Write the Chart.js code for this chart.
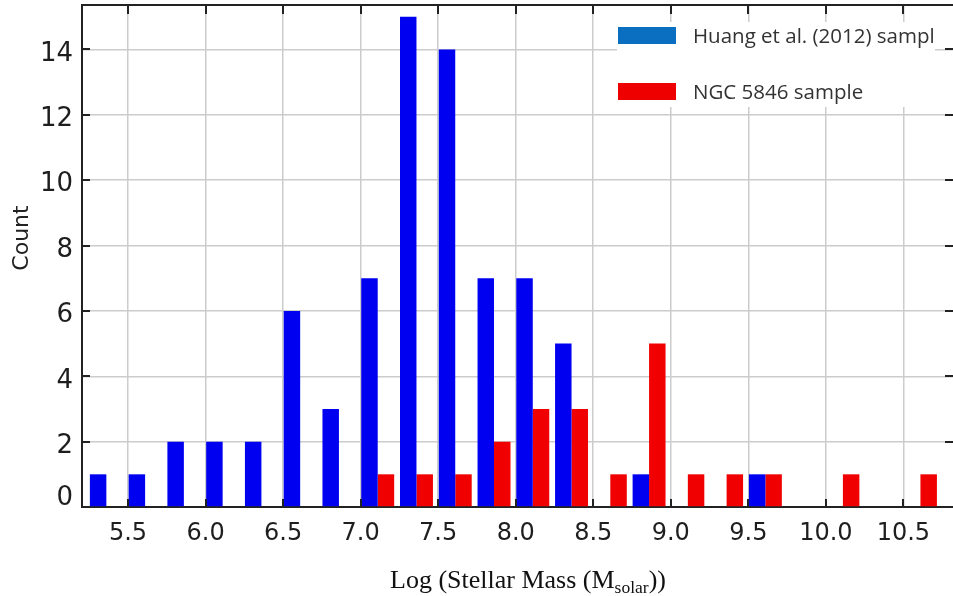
<!DOCTYPE html>
<html><head><meta charset="utf-8">
<script src="https://cdn.jsdelivr.net/npm/chart.js@4.4.1/dist/chart.umd.min.js"></script>
<style>html,body{margin:0;padding:0;background:#fff;overflow:hidden}</style>
</head><body>
<canvas id="c" width="953" height="596"></canvas>
<script>
// ---- data ----
const binCenters  = [5.36, 5.61, 5.86, 6.11, 6.36, 6.61, 6.86, 7.11, 7.36, 7.61, 7.86, 8.11, 8.36, 8.61, 8.86, 9.11, 9.36, 9.61, 9.86, 10.11, 10.36, 10.61];
const huangCounts = [1, 1, 2, 2, 2, 6, 3, 7, 15, 14, 7, 7, 5, 0, 1, 0, 0, 1, 0, 0, 0, 0];
const ngcCounts   = [0, 0, 0, 0, 0, 0, 0, 1, 1, 1, 2, 3, 3, 1, 5, 1, 1, 1, 0, 1, 0, 1];
const xTickValues = [5.5, 6.0, 6.5, 7.0, 7.5, 8.0, 8.5, 9.0, 9.5, 10.0, 10.5];
const yTickValues = [0, 2, 4, 6, 8, 10, 12, 14];
const seriesNames = ['Huang et al. (2012) sampl', 'NGC 5846 sample'];
const xTitleParts = ['Log (Stellar Mass (M', 'solar', '))'];
const yTitle = 'Count';
const xRange = [5.203, 10.82];
const yRange = [0, 15.36];

// ---- styles ----
const barColors = ['#0000f0', '#f00000'];
const legendColors = ['#0a6fc0', '#ee0000'];
const gridColor = '#cccccc';
const axisColor = '#222222';

const framePlugin = {
  id: 'frame',
  afterDatasetsDraw(chart) {
    const {ctx, chartArea: a, scales: {x, y}} = chart;
    ctx.save();
    ctx.strokeStyle = axisColor;
    ctx.lineWidth = 2;
    ctx.beginPath();
    ctx.moveTo(a.left - 1, a.top); ctx.lineTo(a.right, a.top);
    x.ticks.forEach(t => {
      const px = Math.round(x.getPixelForValue(t.value));
      ctx.moveTo(px, a.bottom); ctx.lineTo(px, a.bottom - 8);
      ctx.moveTo(px, a.top); ctx.lineTo(px, a.top + 9);
    });
    y.ticks.forEach(t => {
      const py = Math.round(y.getPixelForValue(t.value));
      ctx.moveTo(a.left, py); ctx.lineTo(a.left + 8, py);
      ctx.moveTo(a.right, py); ctx.lineTo(a.right - 8, py);
    });
    ctx.stroke();
    ctx.restore();
  }
};

const legendPlugin = {
  id: 'customLegend',
  afterDraw(chart) {
    const ctx = chart.ctx;
    ctx.save();
    ctx.fillStyle = '#ffffff';
    ctx.fillRect(617, 22, 318, 85);
    const rows = [36, 92];
    chart.data.datasets.forEach((ds, i) => {
      ctx.fillStyle = legendColors[i];
      ctx.fillRect(618, rows[i] - 9, 58, 17);
      ctx.fillStyle = '#333333';
      ctx.font = '20.5px "Open Sans"';
      ctx.textBaseline = 'middle';
      ctx.textAlign = 'left';
      ctx.fillText(ds.label, 693, rows[i] + 1);
    });
    ctx.restore();
  }
};

const titlePlugin = {
  id: 'axisTitles',
  afterDraw(chart) {
    const ctx = chart.ctx;
    ctx.save();
    ctx.fillStyle = '#111111';
    const mainFont = '26px "Liberation Serif"';
    const subFont = '17.5px "Liberation Serif"';
    ctx.font = mainFont; const w0 = ctx.measureText(xTitleParts[0]).width;
    const w2 = ctx.measureText(xTitleParts[2]).width;
    ctx.font = subFont; const w1 = ctx.measureText(xTitleParts[1]).width;
    const total = w0 + w1 + w2;
    let xs = 528 - total / 2;
    const base = 588;
    ctx.textBaseline = 'alphabetic'; ctx.textAlign = 'left';
    ctx.font = mainFont; ctx.fillText(xTitleParts[0], xs, base); xs += w0;
    ctx.font = subFont; ctx.fillText(xTitleParts[1], xs, base + 5); xs += w1;
    ctx.font = mainFont; ctx.fillText(xTitleParts[2], xs, base);
    ctx.translate(22, 238);
    ctx.rotate(-Math.PI / 2);
    ctx.font = '22px "DejaVu Sans"';
    ctx.fillStyle = '#222222';
    ctx.textAlign = 'center'; ctx.textBaseline = 'middle';
    ctx.fillText(yTitle, 0, 0);
    ctx.restore();
  }
};

new Chart(document.getElementById('c'), {
  type: 'bar',
  data: {
    datasets: [
      { label: seriesNames[0], data: binCenters.map((x, i) => ({x, y: huangCounts[i]})),
        backgroundColor: barColors[0], borderWidth: 0, categoryPercentage: 0.85, barPercentage: 1.0 },
      { label: seriesNames[1], data: binCenters.map((x, i) => ({x, y: ngcCounts[i]})),
        backgroundColor: barColors[1], borderWidth: 0, categoryPercentage: 0.85, barPercentage: 1.0 }
    ]
  },
  options: {
    responsive: false,
    devicePixelRatio: 1,
    animation: false,
    layout: { padding: { top: 5, left: 0, right: 0, bottom: 0 } },
    plugins: { legend: { display: false }, tooltip: { enabled: false } },
    scales: {
      x: {
        type: 'linear', min: xRange[0], max: xRange[1], offset: false,
        grid: { offset: false, color: gridColor, lineWidth: 1.5, drawTicks: false },
        border: { color: axisColor, width: 2 },
        ticks: { font: { family: 'DejaVu Sans', size: 24 }, color: '#1e1e1e', padding: 12,
                 maxRotation: 0, autoSkip: false, callback: v => Number(v).toFixed(1) },
        afterBuildTicks: s => { s.ticks = xTickValues.map(v => ({value: v})); },
        afterFit: s => { s.height = 89; s.paddingLeft = 0; s.paddingRight = 0; s.paddingTop = 0; s.paddingBottom = 0; }
      },
      y: {
        type: 'linear', min: yRange[0], max: yRange[1],
        grid: { color: gridColor, lineWidth: 1.5, drawTicks: false },
        border: { color: axisColor, width: 2 },
        ticks: { font: { family: 'DejaVu Sans', size: 26, lineHeight: 0.35 }, color: '#1e1e1e', padding: 9,
                 callback: v => v === 0 ? ['0', '', ''] : ['', String(v)] },
        afterBuildTicks: s => { s.ticks = yTickValues.map(v => ({value: v})); },
        afterFit: s => { s.width = 82; s.paddingLeft = 0; s.paddingRight = 0; s.paddingTop = 0; s.paddingBottom = 0; }
      }
    }
  },
  plugins: [framePlugin, legendPlugin, titlePlugin]
});
</script>
</body></html>
